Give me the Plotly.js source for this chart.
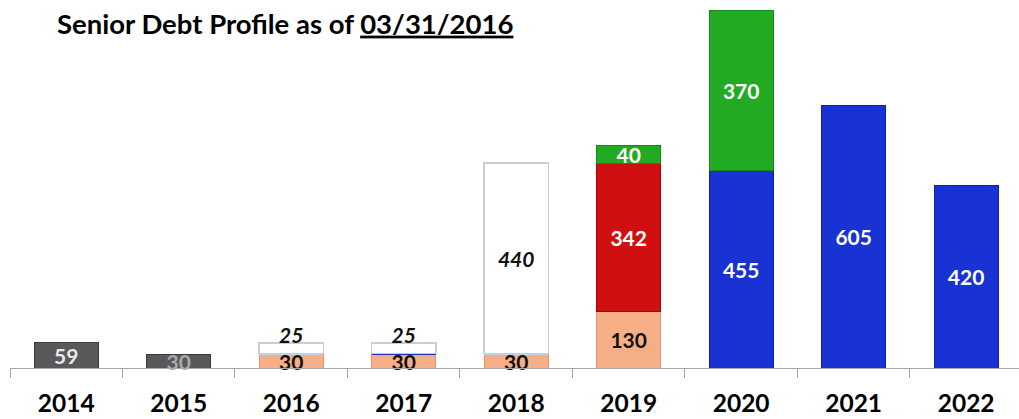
<!DOCTYPE html>
<html>
<head>
<meta charset="utf-8">
<script src="https://cdn.plot.ly/plotly-3.0.1.min.js"></script>
<style>html,body{margin:0;padding:0;background:#fff;}#chart{width:1019px;height:419px;}</style>
</head>
<body>
<div id="chart"></div>
<script>
const years = ['2014','2015','2016','2017','2018','2019','2020','2021','2022'];
const grayDebt   = [59, 30, null, null, null, null, null, null, null];
const orangeDebt = [null, null, 30, 30, 30, 130, null, null, null];
const dividerLine = [null, null, 3, 3, 3, null, null, null, null];
const whiteDebt  = [null, null, 25, 25, 440, null, null, null, null];
const redDebt    = [null, null, null, null, null, 342, null, null, null];
const blueDebt   = [null, null, null, null, null, null, 455, 605, 420];
const greenDebt  = [null, null, null, null, null, 40, 370, null, null];

const FONT = 'Lato, "Open Sans", sans-serif';
function lbl(color, size, style) {
  return {family: FONT, size: size || 21, color: color, weight: 'bold', style: style || 'normal'};
}
const common = {type: 'bar', x: years, hoverinfo: 'skip', cliponaxis: false, textangle: 0,
  constraintext: 'none', texttemplate: '%{y}', insidetextanchor: 'middle', textposition: 'inside'};

const traces = [
  Object.assign({}, common, {name: 'gray', y: grayDebt,
    marker: {color: '#595959', line: {color: '#3a3a3a', width: 1}},
    textfont: Object.assign(lbl('#e8e8e8'), {color: ['#e8e8e8', '#a9a9a9']})}),
  Object.assign({}, common, {name: 'orange', y: orangeDebt,
    marker: {color: '#f6ae86', line: {color: '#e8946a', width: 1}},
    textfont: lbl('#111111')}),
  Object.assign({}, common, {name: 'divider', y: dividerLine, texttemplate: '', textposition: 'none',
    marker: {color: ['#bcd4ee', '#bcd4ee', '#bcd4ee', '#1f2fc4', '#bcd4ee'], line: {width: 0}}}),
  Object.assign({}, common, {name: 'white', y: whiteDebt,
    texttemplate: ['', '', '%{y}<br>&nbsp;', '%{y}<br>&nbsp;', '%{y}', '', '', '', ''],
    marker: {color: '#ffffff', line: {color: '#cdcdcd', width: 1.5}},
    textfont: lbl('#111111', 21, 'italic')}),
  Object.assign({}, common, {name: 'red', y: redDebt,
    marker: {color: '#d01010', line: {color: '#a00808', width: 1}},
    textfont: lbl('#ffffff')}),
  Object.assign({}, common, {name: 'blue', y: blueDebt,
    marker: {color: '#1832d4', line: {color: '#1020a8', width: 1}},
    textfont: lbl('#ffffff')}),
  Object.assign({}, common, {name: 'green', y: greenDebt,
    marker: {color: '#22aa22', line: {color: '#168a16', width: 1}},
    textfont: lbl('#ffffff')})
];

const layout = {
  width: 1019, height: 419,
  margin: {l: 10, r: 0, t: 5, b: 51},
  paper_bgcolor: '#ffffff', plot_bgcolor: '#ffffff',
  barmode: 'stack', bargap: 0.43, showlegend: false,
  title: {text: 'Senior Debt Profile as of <u>03/31/2016</u>', xref: 'container', yref: 'container',
    x: 57 / 1019, xanchor: 'left', y: 1 - 24 / 419, yanchor: 'middle',
    font: {family: FONT, size: 27.5, color: '#000000', weight: 'bold'}},
  xaxis: {type: 'category', range: [-0.5, 8.47], showline: true, linecolor: '#a6a6a6', linewidth: 1,
    ticks: 'outside', tickson: 'boundaries', ticklen: 9, tickcolor: '#a6a6a6', tickwidth: 1,
    showgrid: false, zeroline: false, fixedrange: true, ticklabelstandoff: 14,
    tickfont: {family: FONT, size: 24.5, color: '#000000', weight: 'bold'}},
  yaxis: {range: [0, 837], visible: false, showgrid: false, zeroline: false, fixedrange: true}
};

Plotly.newPlot('chart', traces, layout, {staticPlot: true, displayModeBar: false});
</script>
</body>
</html>
